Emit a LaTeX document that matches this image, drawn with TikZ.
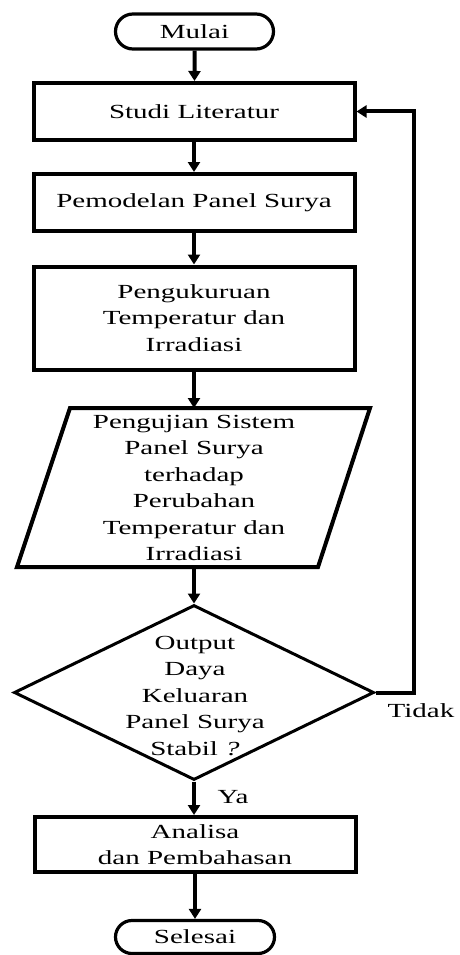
\documentclass[tikz,border=0pt]{standalone}
\usepackage{fontspec}
\usetikzlibrary{arrows.meta,shapes.geometric,shapes.misc}
\newfontfamily\flowfont[FakeStretch=1.45]{Liberation Serif}

\begin{document}
\begin{tikzpicture}[x=1pt,y=-1pt,
  every node/.style={font=\flowfont\fontsize{20}{26.5}\selectfont, align=center, inner sep=0pt},
  terminal/.style={draw, rounded rectangle, line width=3.2pt, minimum width=158pt, minimum height=35pt},
  process/.style={draw, rectangle, line width=4pt, minimum width=321pt},
  decision/.style={draw, diamond, line width=3pt, minimum width=360pt, minimum height=175pt},
  flow/.style={line width=4pt, -{Triangle[width=12pt,length=10pt]}},
  link/.style={line width=4pt}
]
\useasboundingbox (0,0) rectangle (460,955);

% start and main steps
\node[terminal] (mulai) at (194.5,31.5) {Mulai};
\node[process, minimum height=57pt] (studi) at (194,111.5) {Studi Literatur};
\node[process, minimum height=57pt] (model) at (194,202.5) {Pemodelan Panel Surya};
\node[process, minimum height=103pt] (ukur) at (194,318) {Pengukuruan\\Temperatur dan\\Irradiasi};

% input/output step (parallelogram)
\coordinate (ujitl) at (70,408);
\coordinate (ujitr) at (370,408);
\coordinate (ujibr) at (318,567);
\coordinate (ujibl) at (17,567);
\draw[line width=4pt, line join=miter] (ujitl) -- (ujitr) -- (ujibr) -- (ujibl) -- cycle;
\node (uji) at (194,488) {Pengujian Sistem\\Panel Surya\\terhadap\\Perubahan\\Temperatur dan\\Irradiasi};
\coordinate (ujitop) at (194,408);
\coordinate (ujibot) at (194,567);

% decision
\node[decision] (cek) at (194,692.5) {};
\node (cektext) at (195,696) {Output\\Daya\\Keluaran\\Panel Surya\\Stabil \textit{?}};

% end steps
\node[process, minimum height=55pt] (analisa) at (195,844.5) {Analisa\\dan Pembahasan};
\node[terminal, minimum width=159pt, minimum height=33pt] (selesai) at (195,937) {Selesai};

% connectors
\draw[flow] (mulai) -- (mulai |- studi.north);
\draw[flow] (studi) -- (model);
\draw[flow] (model) -- (ukur);
\draw[flow] (ukur.south) -- (ujitop);
\draw[flow] (ujibot) -- (cek.north);
\draw[flow] (cek.south) -- (cek.south |- analisa.north);
\draw[flow] (analisa.south) -- (selesai.north);

\coordinate (back) at (414,692.5);
\draw[flow, line join=miter] (cek.east) -- (back) |- (studi.east);

% branch labels
\node (ya) at (233,797) {Ya};
\node (tidak) at (421,711) {Tidak};
\end{tikzpicture}
\end{document}
